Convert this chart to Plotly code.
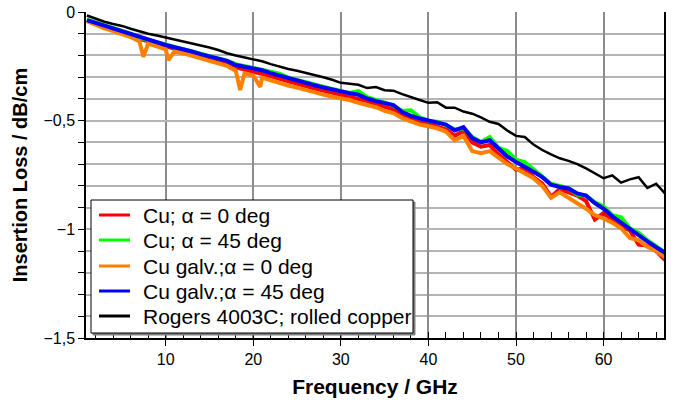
import plotly.graph_objects as go

freq = list(range(1, 68))

loss_cu_0 = [-0.040,-0.055,-0.068,-0.080,-0.092,-0.106,-0.124,-0.136,-0.148,-0.160,
             -0.170,-0.180,-0.190,-0.202,-0.213,-0.223,-0.236,-0.255,-0.265,-0.272,
             -0.282,-0.295,-0.308,-0.320,-0.330,-0.340,-0.352,-0.362,-0.372,-0.382,
             -0.390,-0.398,-0.410,-0.425,-0.438,-0.448,-0.478,-0.495,-0.510,-0.515,
             -0.528,-0.540,-0.570,-0.548,-0.600,-0.620,-0.612,-0.655,-0.690,-0.725,
             -0.720,-0.760,-0.790,-0.850,-0.815,-0.830,-0.845,-0.870,-0.955,-0.925,
             -0.955,-0.985,-1.005,-1.070,-1.075,-1.100,-1.140]

loss_cu_45 = [-0.035,-0.048,-0.062,-0.074,-0.086,-0.100,-0.118,-0.128,-0.140,-0.150,
              -0.160,-0.170,-0.180,-0.192,-0.203,-0.212,-0.224,-0.240,-0.249,-0.256,
              -0.266,-0.278,-0.284,-0.302,-0.313,-0.324,-0.334,-0.344,-0.354,-0.364,
              -0.372,-0.364,-0.392,-0.405,-0.418,-0.430,-0.455,-0.452,-0.485,-0.500,
              -0.505,-0.520,-0.540,-0.535,-0.575,-0.598,-0.575,-0.625,-0.640,-0.680,
              -0.690,-0.725,-0.755,-0.790,-0.800,-0.810,-0.840,-0.845,-0.875,-0.895,
              -0.935,-0.945,-0.995,-1.015,-1.050,-1.080,-1.105]

loss_galv_0 = [-0.042,-0.060,-0.075,-0.088,-0.100,-0.115,-0.135,-0.145,-0.160,-0.172,
               -0.182,-0.190,-0.200,-0.213,-0.225,-0.235,-0.248,-0.270,-0.282,-0.292,
               -0.302,-0.315,-0.328,-0.338,-0.348,-0.360,-0.370,-0.380,-0.390,-0.398,
               -0.405,-0.418,-0.428,-0.438,-0.455,-0.465,-0.488,-0.505,-0.518,-0.526,
               -0.535,-0.550,-0.590,-0.570,-0.640,-0.650,-0.640,-0.670,-0.700,-0.720,
               -0.745,-0.765,-0.800,-0.855,-0.830,-0.855,-0.875,-0.905,-0.935,-0.950,
               -0.970,-0.995,-1.040,-1.050,-1.080,-1.100,-1.128]

# narrow dips of the noisy galvanic copper trace
spike_freq = [7.45, 10.3, 18.5, 20.8]
spike_loss = [-0.206, -0.221, -0.359, -0.345]

loss_galv_45 = [-0.037,-0.050,-0.064,-0.075,-0.086,-0.100,-0.116,-0.128,-0.140,-0.152,
                -0.162,-0.171,-0.182,-0.194,-0.205,-0.214,-0.225,-0.244,-0.252,-0.259,
                -0.268,-0.281,-0.293,-0.305,-0.316,-0.326,-0.337,-0.347,-0.357,-0.367,
                -0.374,-0.381,-0.398,-0.410,-0.420,-0.428,-0.460,-0.478,-0.490,-0.498,
                -0.510,-0.518,-0.545,-0.530,-0.580,-0.600,-0.590,-0.630,-0.665,-0.690,
                -0.710,-0.735,-0.760,-0.795,-0.805,-0.812,-0.835,-0.845,-0.880,-0.905,
                -0.940,-0.970,-0.998,-1.026,-1.055,-1.082,-1.108]

loss_rogers = [-0.016,-0.030,-0.045,-0.055,-0.064,-0.077,-0.090,-0.100,-0.108,-0.117,
               -0.127,-0.136,-0.145,-0.153,-0.163,-0.175,-0.190,-0.200,-0.208,-0.216,
               -0.227,-0.240,-0.252,-0.262,-0.270,-0.280,-0.288,-0.300,-0.312,-0.326,
               -0.330,-0.335,-0.350,-0.345,-0.360,-0.362,-0.378,-0.390,-0.405,-0.418,
               -0.415,-0.440,-0.440,-0.458,-0.468,-0.485,-0.505,-0.515,-0.545,-0.570,
               -0.575,-0.610,-0.635,-0.655,-0.673,-0.685,-0.700,-0.720,-0.742,-0.765,
               -0.752,-0.785,-0.770,-0.760,-0.810,-0.790,-0.835]

names = ["Cu; α = 0 deg", "Cu; α = 45 deg", "Cu galv.;α = 0 deg",
         "Cu galv.;α = 45 deg", "Rogers 4003C; rolled copper"]
colors = ["#ff0000", "#00ff00", "#ff8000", "#0000ff", "#000000"]

pts = sorted(list(zip(freq, loss_galv_0)) + list(zip(spike_freq, spike_loss)))
galv0_f = [p[0] for p in pts]
galv0_v = [p[1] for p in pts]

series = [(freq, loss_cu_0), (freq, loss_cu_45), (galv0_f, galv0_v),
          (freq, loss_galv_45), (freq, loss_rogers)]
widths = [4, 4, 4, 4, 2.5]

fig = go.Figure()
for (fx, fy), n, c, w in zip(series, names, colors, widths):
    fig.add_trace(go.Scatter(x=fx, y=fy, mode="lines", name=n, showlegend=False,
                             line=dict(color=c, width=w)))

W, H = 679, 405
ML, MR, MT, MB = 86, 15, 12, 67
PW, PH = W - ML - MR, H - MT - MB


def px_x(px):  # window pixel -> paper x
    return (px - ML) / PW


def px_y(py):  # window pixel -> paper y
    return (H - MB - py) / PH


font = "Liberation Sans, Arial, sans-serif"

# legend box drawn in paper space
shapes = [
    dict(type="rect", xref="paper", yref="paper", layer="above",
         x0=px_x(93), x1=px_x(415), y0=px_y(335), y1=px_y(202),
         line=dict(color="#808080", width=1), fillcolor="#808080"),
    dict(type="rect", xref="paper", yref="paper", layer="above",
         x0=px_x(91), x1=px_x(413), y0=px_y(333), y1=px_y(200),
         line=dict(color="black", width=1), fillcolor="white"),
]
annotations = []
row_y = [215, 240, 266, 291, 316]
for n, c, ry in zip(names, colors, row_y):
    shapes.append(dict(type="line", xref="paper", yref="paper", layer="above",
                       x0=px_x(99), x1=px_x(130), y0=px_y(ry), y1=px_y(ry),
                       line=dict(color=c, width=3)))
    annotations.append(dict(text=n, xref="paper", yref="paper", x=px_x(141), y=px_y(ry),
                            xanchor="left", yanchor="middle", showarrow=False,
                            font=dict(size=21, family=font, color="black")))

fig.update_layout(
    width=W, height=H,
    margin=dict(l=ML, r=MR, t=MT, b=MB, autoexpand=False),
    paper_bgcolor="white", plot_bgcolor="white",
    separators=",.",
    font=dict(family=font, size=16, color="black"),
    showlegend=False,
    shapes=shapes, annotations=annotations,
)
fig.update_xaxes(
    range=[0.9, 66.9], tick0=0, dtick=10, automargin=False,
    showline=True, linecolor="black", linewidth=1.5, mirror=False,
    ticks="outside", ticklen=6, tickcolor="black",
    showgrid=True, gridcolor="#8c8c8c", gridwidth=1.5, zeroline=False,
    minor=dict(dtick=2, tick0=0, ticks="inside", ticklen=6, tickcolor="black", showgrid=False),
    title=dict(text="<b>Frequency / GHz</b>", font=dict(size=21, family=font), standoff=12),
    tickfont=dict(size=16),
)
fig.update_yaxes(
    range=[-1.5, 0], tick0=0, dtick=0.5, automargin=False,
    showline=True, linecolor="black", linewidth=1.5, mirror=True,
    ticks="outside", ticklen=6, tickcolor="black", ticklabeloverflow="allow",
    showgrid=True, gridcolor="#b4b4b4", gridwidth=2, zeroline=False,
    minor=dict(dtick=0.1, tick0=0, ticks="outside", ticklen=6, tickcolor="black",
               showgrid=True, gridcolor="#b4b4b4", gridwidth=2),
    title=dict(text="<b>Insertion Loss / dB/cm</b>", font=dict(size=20, family=font), standoff=10),
    tickfont=dict(size=16),
)

fig.write_html("out.html", config={"displayModeBar": False},
               post_script="document.body.style.margin='0';")
